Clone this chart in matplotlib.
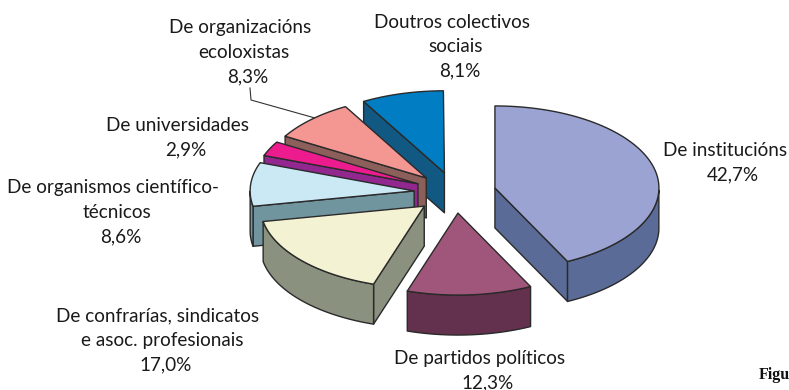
import numpy as np
from matplotlib import pyplot as plt
from matplotlib.patches import Polygon

CATEGORIES = [
    "De institucións",
    "De partidos políticos",
    "De confrarías, sindicatos\ne asoc. profesionais",
    "De organismos científico-\ntécnicos",
    "De universidades",
    "De organizacións\necoloxistas",
    "Doutros colectivos\nsociais",
]
SHARES = [42.7, 12.3, 17.0, 8.6, 2.9, 8.3, 8.1]
TOP_COLOURS = ["#9BA3D2", "#A0557B", "#F3F3D3", "#CBE9F5", "#EC1C8E", "#F49692", "#007DC3"]
SIDE_COLOURS = ["#5B6B97", "#63304D", "#8B917F", "#70959F", "#92278F", "#8C5F5B", "#115883"]
LABEL_POS = [(725, 162), (480, 370), (158, 340), (113, 212), (178, 137), (240, 52), (452, 46)]

# pie geometry, in pixels
CX, CY = 455, 192.6
RX, RY = 164, 82
EXPLODE = 0.25
DEPTH = 40
EDGE = "#2a2a2a"
LINE_PITCH = 24.5

fig = plt.figure(figsize=(7.89, 3.90), dpi=100)
ax = fig.add_axes([0, 0, 1, 1])
ax.set_xlim(0, 789)
ax.set_ylim(390, 0)
ax.axis("off")


def rim(apex, angles):
    # angles are clockwise from 12 o'clock
    return np.column_stack([
        apex[0] + RX * np.sin(angles),
        apex[1] - RY * np.cos(angles),
    ])


def draw_face(points, colour, z):
    ax.add_patch(Polygon(points, closed=True, facecolor=colour, edgecolor=EDGE,
                         linewidth=1.0, joinstyle="round", zorder=z))


def extrude(points):
    return np.vstack([points, (points + [0, DEPTH])[::-1]])


edges = np.radians(np.concatenate([[0], np.cumsum(SHARES)]) * 3.6)

# back slices first, the front ones paint over them
order = [6, 5, 4, 3, 2, 0, 1]
for z, i in enumerate(order):
    a, b = edges[i], edges[i + 1]
    mid = (a + b) / 2
    apex = (CX + EXPLODE * RX * np.sin(mid), CY - EXPLODE * RY * np.cos(mid))
    angles = np.linspace(a, b, 80)
    outer = rim(apex, angles)
    z = z * 10 + 2

    # radial side faces that look towards the viewer
    if np.sin(a) < -1e-6:
        draw_face(extrude(np.array([apex, outer[0]])), SIDE_COLOURS[i], z)
    if np.sin(b) > 1e-6:
        draw_face(extrude(np.array([apex, outer[-1]])), SIDE_COLOURS[i], z)

    # curved wall, only the front half of the ellipse
    front = angles[np.cos(angles) < 0]
    if len(front) > 1:
        draw_face(extrude(rim(apex, front)), SIDE_COLOURS[i], z + 1)

    draw_face(np.vstack([[apex], outer]), TOP_COLOURS[i], z + 2)

# leader line for the ecoloxistas label
ax.plot([250, 251, 315], [88, 100, 118], color="#333333", linewidth=0.8, zorder=1)

# the source labels are not truly centred: lower lines sit further to the right
for name, share, (x, y) in zip(CATEGORIES, SHARES, LABEL_POS):
    lines = name.split("\n") + [f"{share:.1f}%".replace(".", ",")]
    y0 = y - (len(lines) - 1) / 2 * LINE_PITCH + 6
    for n, line in enumerate(lines):
        shift = 8 if n == len(lines) - 1 else 4 * n
        ax.text(x + shift, y0 + n * LINE_PITCH, line, ha="center", va="baseline",
                fontsize=13.6, family="Lato", color="#1a1a1a", zorder=200)

ax.text(759, 375, "Figu", ha="left", va="center", fontsize=11.5, weight="bold",
        family="Liberation Serif", color="#111111", clip_on=False)

fig.savefig("out.png", dpi=100)
